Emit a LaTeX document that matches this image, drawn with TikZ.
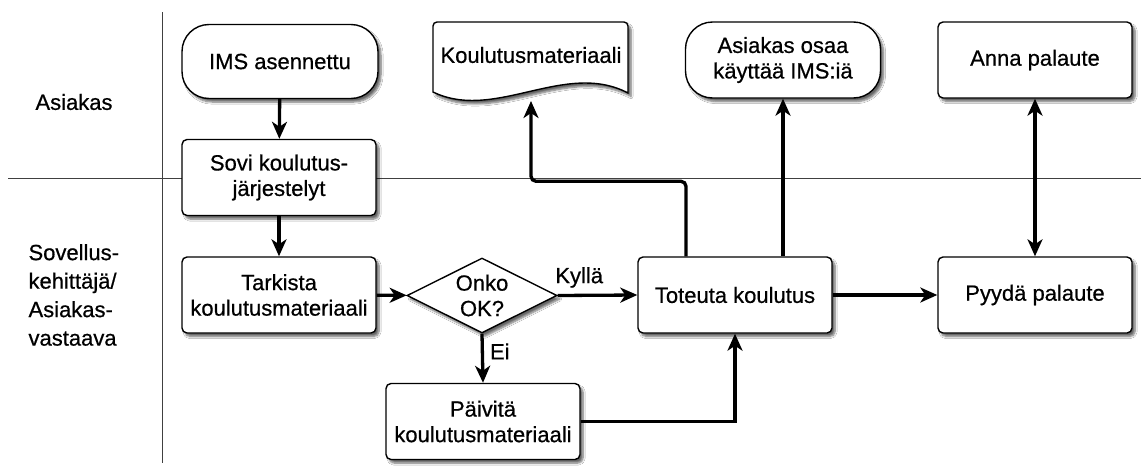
\documentclass[tikz,border=0pt]{standalone}
\usepackage{fontspec}
\setmainfont{Liberation Sans}[FakeBold=0.6]
\usetikzlibrary{arrows.meta,shapes.geometric,shadows,shadows.blur}
\newcommand\lbl{\fontsize{22}{25.5}\selectfont}
\newcommand\lanefont{\fontsize{22}{28.5}\selectfont}
\tikzset{
  shade drop/.style={blur shadow={shadow xshift=3pt, shadow yshift=-3.5pt, shadow opacity=60, shadow blur steps=6}},
  base/.style={draw, line width=1.4pt, fill=white, align=center, font=\lbl, shade drop},
  proc/.style={base, rectangle, rounded corners=5pt, minimum width=194pt, minimum height=76pt, inner sep=0pt},
  term/.style={base, rectangle, rounded corners=27pt, minimum width=196pt, minimum height=74pt, inner sep=0pt},
  decision/.style={base, diamond, minimum width=150pt, minimum height=75pt, inner sep=0pt},
  tip/.tip={Stealth[length=17pt,width=15pt,inset=5pt]},
  flow/.style={line width=3.3pt, -tip},
  flowboth/.style={line width=3.3pt, tip-tip},
  lane/.style={draw=black!75, line width=0.9pt},
  tag/.style={font=\lbl, inner sep=2pt}
}
\begin{document}
\begin{tikzpicture}[x=1pt,y=1pt]
  % canvas
  \fill[white] (0,0) rectangle (1141,-466);
  \useasboundingbox (0,0) rectangle (1141,-466);

  % swimlanes
  \draw[lane] (162.5,-12) -- (162.5,-463);
  \draw[lane] (8,-178) -- (1141,-178);
  \node[font=\lanefont] (laneA) at (74,-102) {Asiakas};
  \node[font=\lanefont, align=left, anchor=west] (laneB) at (25,-295)
    {Sovellus-\\kehittäjä/\\Asiakas-\\vastaava};

  % document shape (wavy bottom)
  \draw[line width=1.4pt, fill=white, shade drop]
    (433,-92) -- (433,-26) arc[start angle=180,end angle=90,radius=4]
    -- (624,-22) arc[start angle=90,end angle=0,radius=4]
    -- (628,-93) .. controls (565,-60) and (495,-122) .. (433,-92) -- cycle;
  \node[font=\lbl] (doc) at (531,-55) {Koulutusmateriaali};
  \coordinate (docb) at (531,-101);

  % nodes
  \node[term] (ims)  at (280,-61.5) {IMS asennettu};
  \node[proc] (sovi) at (279,-177.5) {Sovi koulutus-\\järjestelyt};
  \node[proc] (tark) at (279,-295) {Tarkista\\koulutusmateriaali};
  \node[decision, label={[align=center,font=\lbl,inner sep=0pt]center:Onko\\OK?}] (ok) at (482,-295.5) {};
  \node[proc] (paiv) at (483,-421.5) {Päivitä\\koulutusmateriaali};
  \node[proc] (tot)  at (735,-295) {Toteuta koulutus};
  \node[proc] (pyy)  at (1035,-295) {Pyydä palaute};
  \node[term, minimum width=195pt, minimum height=76pt] (osaa) at (783,-60) {Asiakas osaa\\käyttää IMS:iä};
  \node[proc] (anna) at (1035,-60) {Anna palaute};

  % connectors
  \draw[flow] (ims) -- (sovi);
  \draw[flow] (sovi) -- (tark);
  \draw[flow] (tark) -- (ok);
  \draw[flow] (ok.east) -- node[tag, pos=0.27, above=4pt] {Kyllä} (tot.west);
  \draw[flow] (ok.south) -- node[tag, pos=0.36, right=4pt] {Ei} (paiv.north);
  \draw[flow] (paiv.east) -| (tot.south);
  \draw[flow, rounded corners=5pt] ([xshift=-49pt]tot.north) -- ++(0,75) -| (docb);
  \draw[flow] (tot.north -| osaa.south) -- (osaa.south);
  \draw[flow] (tot.east) -- (pyy.west);
  \draw[flowboth] (pyy.north) -- (anna.south);
\end{tikzpicture}
\end{document}
